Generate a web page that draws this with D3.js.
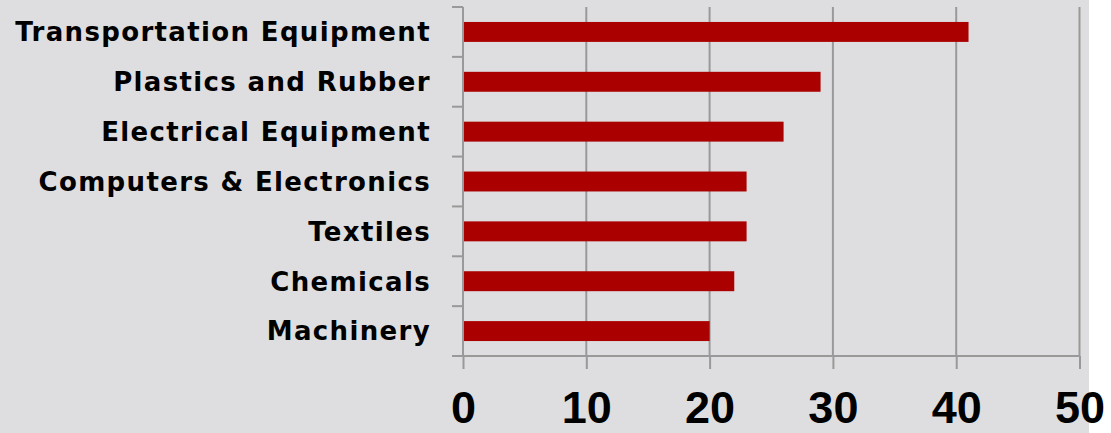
<!DOCTYPE html>
<meta charset="utf-8">
<style>
  body { margin: 0; background: #fff; }
  .cat text { font-family: "DejaVu Sans", sans-serif; font-weight: 700; font-size: 26px; letter-spacing: 1.35px; fill: #000; }
  .xaxis text { font-family: "Liberation Sans", Arial, sans-serif; font-weight: 700; font-size: 45px; fill: #000; }
</style>
<body>
<script src="https://cdnjs.cloudflare.com/ajax/libs/d3/7.8.5/d3.min.js"></script>
<script>
// categories, top to bottom
var categories = ["Transportation Equipment", "Plastics and Rubber", "Electrical Equipment",
                  "Computers & Electronics", "Textiles", "Chemicals", "Machinery"];
var values = [41, 29, 26, 23, 23, 22, 20];
var xTicks = [0, 10, 20, 30, 40, 50];

var width = 1111, height = 433;
var margin = {top: 7, left: 463, right: 31, bottom: 77};

var svg = d3.select("body").append("svg")
    .attr("width", width)
    .attr("height", height);

// gray panel
svg.append("rect")
    .attr("width", 1089)
    .attr("height", height)
    .attr("fill", "#dedee0");

var x = d3.scaleLinear()
    .domain([0, 50])
    .range([margin.left, width - margin.right - 0.5]);

var y = d3.scaleBand()
    .domain(categories)
    .range([margin.top, height - margin.bottom])
    .paddingInner(0.6)
    .paddingOuter(0.3);

// vertical grid lines
svg.append("g")
  .selectAll("line")
  .data(xTicks.slice(1))
  .enter().append("line")
    .attr("x1", d => x(d)).attr("x2", d => x(d))
    .attr("y1", margin.top).attr("y2", height - margin.bottom)
    .attr("stroke", "#999")
    .attr("stroke-width", 2);

// bars
svg.append("g")
  .selectAll("rect")
  .data(values)
  .enter().append("rect")
    .attr("x", x(0))
    .attr("y", (d, i) => y(categories[i]))
    .attr("width", d => x(d) - x(0))
    .attr("height", y.bandwidth())
    .attr("fill", "#aa0000");

// left axis line + ticks between categories
var step = (height - margin.bottom - margin.top) / categories.length;
var gl = svg.append("g");
gl.selectAll("line.tk")
  .data(d3.range(categories.length + 1))
  .enter().append("line")
    .attr("x1", x(0) - 11).attr("x2", x(0))
    .attr("y1", i => margin.top + i * step).attr("y2", i => margin.top + i * step)
    .attr("stroke", "#999").attr("stroke-width", 2);
gl.append("line")
    .attr("x1", x(0)).attr("x2", x(0))
    .attr("y1", margin.top).attr("y2", height - margin.bottom)
    .attr("stroke", "#999").attr("stroke-width", 2);

// category labels
svg.append("g").attr("class", "cat")
  .selectAll("text")
  .data(categories)
  .enter().append("text")
    .attr("x", 431)
    .attr("y", d => y(d) + y.bandwidth() / 2)
    .attr("dy", "0.36em")
    .attr("text-anchor", "end")
    .text(d => d);

// bottom axis
var xAxis = d3.axisBottom(x).tickValues(xTicks).tickSize(13).tickPadding(22);
var gx = svg.append("g").attr("class", "xaxis")
    .attr("transform", "translate(0," + (height - margin.bottom) + ")")
    .call(xAxis);
gx.select(".domain").attr("stroke", "#999").attr("stroke-width", 2)
    .attr("d", "M" + x(0) + ",0H" + x(50));
gx.selectAll(".tick line").attr("stroke", "#999").attr("stroke-width", 2);
</script>
</body>
</html>
